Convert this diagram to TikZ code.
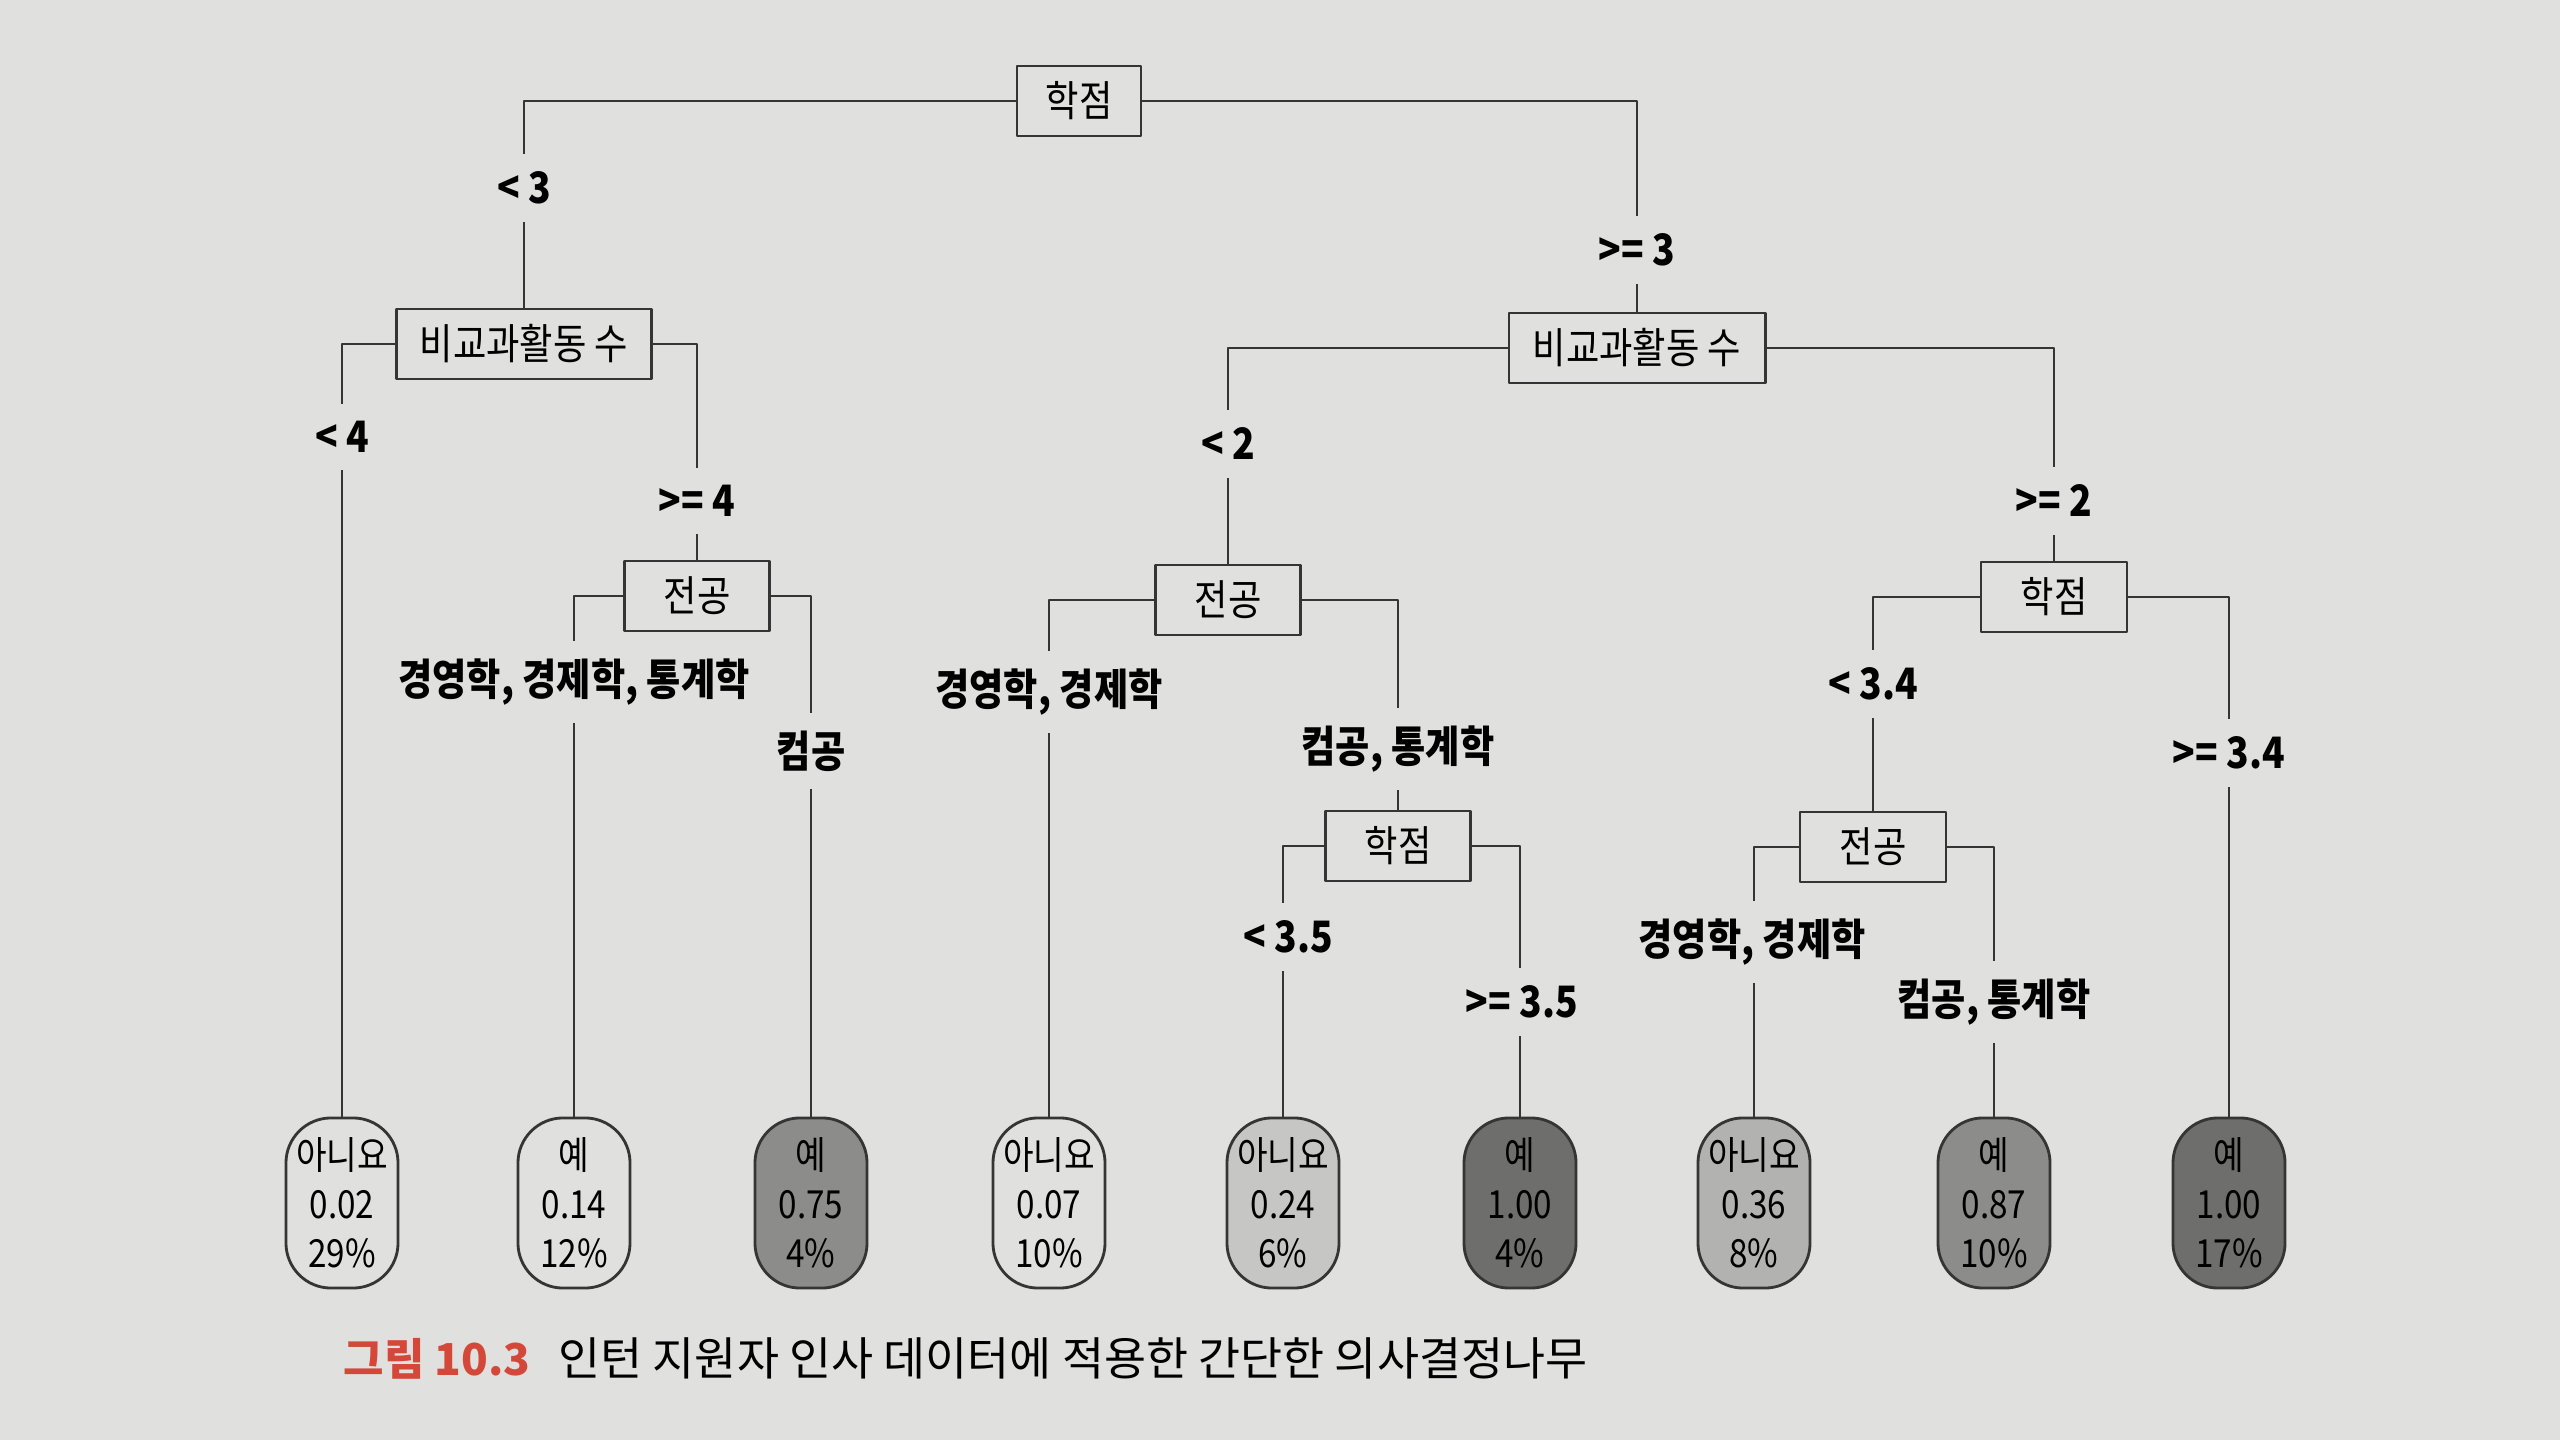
\documentclass[tikz,border=0pt]{standalone}
\usepackage{fontspec}
\setmainfont{Noto Sans CJK KR}[FakeStretch=0.86]
\newfontfamily\capfont{Noto Sans CJK KR}
\usepackage{xcolor}
\usepackage{tikz}
\definecolor{paper}{HTML}{E0E0DE}
\definecolor{ink}{HTML}{353535}
\definecolor{figred}{HTML}{D4483A}
\definecolor{shadeA}{HTML}{C6C6C4}
\definecolor{shadeB}{HTML}{B2B2B0}
\definecolor{shadeC}{HTML}{8C8C8A}
\definecolor{shadeD}{HTML}{6E6E6C}

\begin{document}
\begin{tikzpicture}[x=0.01cm,y=-0.01cm,line join=round,
  split/.style={draw=ink,line width=0.8pt,fill=paper,minimum height=0.70cm,
    inner sep=0pt,font=\fontsize{12}{14}\selectfont},
  leaf/.style={draw=ink,line width=0.8pt,rounded corners=0.45cm,
    minimum width=1.12cm,minimum height=1.70cm,align=center,inner sep=0pt,
    font=\fontsize{11}{14}\selectfont},
  cond/.style={fill=paper,inner xsep=2pt,inner ysep=5pt,
    font=\fontsize{12.3}{14}\selectfont\bfseries},
  edge/.style={draw=ink,line width=0.7pt}]
  \useasboundingbox (0,0) rectangle (2560,1440);
  \fill[paper] (0,0) rectangle (2560,1440);
  % split nodes
  \node[split,minimum width=1.24cm] (root) at (1079,101) {학점};
  \node[split,minimum width=2.55cm] (act1) at (524,344) {비교과활동 수};
  \node[split,minimum width=2.56cm] (act2) at (1637,348) {비교과활동 수};
  \node[split,minimum width=1.45cm] (maj1) at (697,596) {전공};
  \node[split,minimum width=1.45cm] (maj2) at (1228,600) {전공};
  \node[split,minimum width=1.45cm] (gpa2) at (1398,846) {학점};
  \node[split,minimum width=1.46cm] (gpa3) at (2054,597) {학점};
  \node[split,minimum width=1.46cm] (maj3) at (1873,847) {전공};
  % leaves
  \node[leaf,fill=paper] (lf1) at (342,1203) {아니요\\0.02\\29\%};
  \node[leaf,fill=paper] (lf2) at (574,1203) {예\\0.14\\12\%};
  \node[leaf,fill=shadeC] (lf3) at (811,1203) {예\\0.75\\4\%};
  \node[leaf,fill=paper] (lf4) at (1049,1203) {아니요\\0.07\\10\%};
  \node[leaf,fill=shadeA] (lf5) at (1283,1203) {아니요\\0.24\\6\%};
  \node[leaf,fill=shadeD] (lf6) at (1520,1203) {예\\1.00\\4\%};
  \node[leaf,fill=shadeB] (lf7) at (1754,1203) {아니요\\0.36\\8\%};
  \node[leaf,fill=shadeC] (lf8) at (1994,1203) {예\\0.87\\10\%};
  \node[leaf,fill=shadeD] (lf9) at (2229,1203) {예\\1.00\\17\%};
  % branches
  \draw[edge] (root.west) -| (act1.north);
  \draw[edge] (root.east) -| (act2.north);
  \draw[edge] (act1.west) -| (lf1.north);
  \draw[edge] (act1.east) -| (maj1.north);
  \draw[edge] (maj1.west) -| (lf2.north);
  \draw[edge] (maj1.east) -| (lf3.north);
  \draw[edge] (act2.west) -| (maj2.north);
  \draw[edge] (act2.east) -| (gpa3.north);
  \draw[edge] (maj2.west) -| (lf4.north);
  \draw[edge] (maj2.east) -| (gpa2.north);
  \draw[edge] (gpa2.west) -| (lf5.north);
  \draw[edge] (gpa2.east) -| (lf6.north);
  \draw[edge] (gpa3.west) -| (maj3.north);
  \draw[edge] (gpa3.east) -| (lf9.north);
  \draw[edge] (maj3.west) -| (lf7.north);
  \draw[edge] (maj3.east) -| (lf8.north);
  % branch conditions
  \node[cond] (c1) at (524,188) {< 3};
  \node[cond] (c2) at (1637,250) {>= 3};
  \node[cond] (c3) at (342,437) {< 4};
  \node[cond] (c4) at (697,501) {>= 4};
  \node[cond] (c5) at (574,682) {경영학, 경제학, 통계학};
  \node[cond] (c6) at (811,751) {컴공};
  \node[cond] (c7) at (1228,444) {< 2};
  \node[cond] (c8) at (2054,501) {>= 2};
  \node[cond] (c9) at (1049,692) {경영학, 경제학};
  \node[cond] (c10) at (1398,749) {컴공, 통계학};
  \node[cond] (c11) at (1288,937) {< 3.5};
  \node[cond] (c12) at (1522,1002) {>= 3.5};
  \node[cond] (c13) at (1873,684) {< 3.4};
  \node[cond] (c14) at (2229,753) {>= 3.4};
  \node[cond] (c15) at (1752,942) {경영학, 경제학};
  \node[cond] (c16) at (1994,1002) {컴공, 통계학};
  % caption
  \node[anchor=west,inner sep=0pt,font=\capfont\fontsize{13}{15}\selectfont] (cap) at (343,1358)
    {{\color{figred}\bfseries\fontsize{12.5}{15}\selectfont 그림 10.3}\hspace{8pt}인턴 지원자 인사 데이터에 적용한 간단한 의사결정나무};
\end{tikzpicture}
\end{document}
